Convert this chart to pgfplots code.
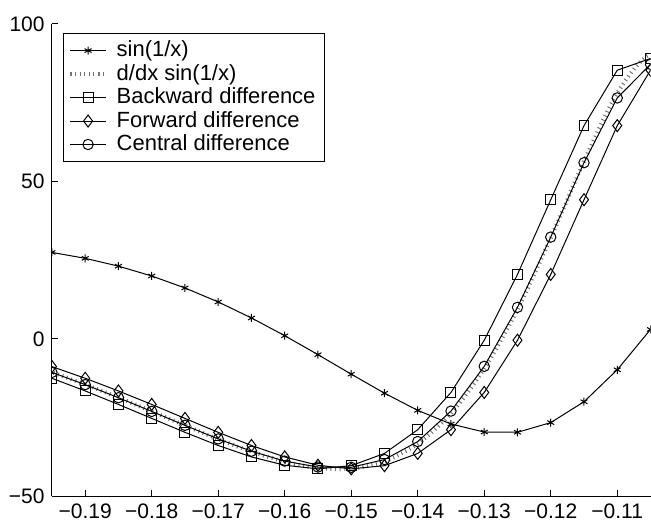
\documentclass[border=0pt]{standalone}
\usepackage{fontspec}
\setmainfont{Liberation Sans}
\usepackage{pgfplots}
\pgfplotsset{compat=1.18}

% 30*sin(1/x) sampled with step h = 0.005
\pgfplotstableread{
x       y
-0.195  27.444
-0.190  25.564
-0.185  23.080
-0.180  19.953
-0.175  16.161
-0.170  11.706
-0.165  6.622
-0.160  0.995
-0.155  -5.029
-0.150  -11.225
-0.145  -17.269
-0.140  -22.729
-0.135  -27.058
-0.130  -29.613
-0.125  -29.681
-0.120  -26.613
-0.115  -19.987
-0.110  -9.831
-0.105  2.966
}\sinetable

% exact derivative -cos(1/x)/x^2
\pgfplotstableread{
x       y
-0.200  -7.092
-0.195  -10.623
-0.190  -14.497
-0.185  -18.667
-0.180  -23.048
-0.175  -27.510
-0.170  -31.859
-0.165  -35.825
-0.160  -39.041
-0.155  -41.034
-0.150  -41.217
-0.145  -38.893
-0.140  -33.300
-0.135  -23.697
-0.130  -9.478
-0.125  9.312
-0.120  32.055
-0.115  56.390
-0.110  78.081
-0.105  90.259
-0.100  83.907
}\derivtable

% difference quotients of sin(1/x)
\pgfplotstableread{
x       back     fwd      cent
-0.195  -12.535  -8.825   -10.680
-0.190  -16.559  -12.535  -14.547
-0.185  -20.844  -16.559  -18.702
-0.180  -25.280  -20.844  -23.062
-0.175  -29.704  -25.280  -27.492
-0.170  -33.888  -29.704  -31.796
-0.165  -37.513  -33.888  -35.701
-0.160  -40.162  -37.513  -38.838
-0.155  -41.304  -40.162  -40.733
-0.150  -40.295  -41.304  -40.800
-0.145  -36.400  -40.295  -38.348
-0.140  -28.861  -36.400  -32.631
-0.135  -17.031  -28.861  -22.946
-0.130  -0.454   -17.031  -8.743
-0.125  20.454   -0.454   10.000
-0.120  44.174   20.454   32.314
-0.115  67.704   44.174   55.939
-0.110  85.314   67.704   76.509
-0.105  89.030   85.314   87.172
}\difftable

\begin{document}
\fontsize{10.5}{12.5}\selectfont
\begin{tikzpicture}
\begin{axis}[
  scale only axis,
  width=299.5pt, height=236.3pt,
  xmin=-0.195, xmax=-0.105,
  ymin=-50, ymax=100,
  axis x line*=bottom, axis y line*=left,
  axis line style={line width=0.5pt},
  tick align=inside,
  major tick length=3pt,
  tick style={line width=0.5pt, black},
  xtick={-0.19,-0.18,-0.17,-0.16,-0.15,-0.14,-0.13,-0.12,-0.11},
  xticklabels={−0.19,−0.18,−0.17,−0.16,−0.15,−0.14,−0.13,−0.12,−0.11},
  ytick={-50,0,50,100},
  yticklabels={−50,0,50,100},
  tick label style={font=\fontsize{10.5}{12.5}\selectfont},
  clip marker paths=true,
  every axis plot/.append style={line width=0.5pt, black},
  legend style={
    at={(0,1)}, anchor=north west,
    xshift=5.5pt, yshift=-4.5pt,
    draw=black, line width=0.5pt,
    font=\fontsize{11}{12.5}\selectfont,
    row sep=-1.8pt,
    inner xsep=2.5pt, inner ysep=1.8pt,
    /tikz/every odd column/.style={column sep=2.5pt},
  },
  legend image code/.code={
    \draw[mark repeat=2, mark phase=2]
      plot coordinates {(0cm,0cm) (0.31cm,0cm) (0.62cm,0cm)};
  },
  legend cell align=left,
]
\addplot[mark=asterisk, mark size=2pt] table[x=x, y=y] {\sinetable};
\addlegendentry{sin(1/x)}

\addplot[smooth, black!55, line width=2pt, dash pattern=on 0.5pt off 1.8pt] table[x=x, y=y] {\derivtable};
\addlegendentry{d/dx sin(1/x)}

\addplot[mark=square, mark size=2.5pt, mark options={solid, fill=white}] table[x=x, y=back] {\difftable};
\addlegendentry{Backward difference}

\addplot[mark=diamond, mark size=3pt, mark options={solid, fill=white}] table[x=x, y=fwd] {\difftable};
\addlegendentry{Forward difference}

\addplot[mark=o, mark size=2.6pt, mark options={solid, fill=white}] table[x=x, y=cent] {\difftable};
\addlegendentry{Central difference}
\end{axis}
\path ([xshift=-26pt, yshift=12pt]current axis.north west);
\end{tikzpicture}
\end{document}
